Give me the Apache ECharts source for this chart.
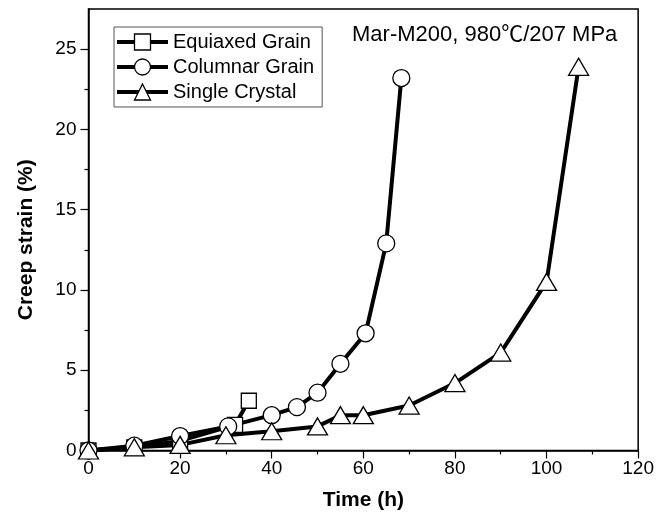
<!DOCTYPE html>
<html>
<head>
<meta charset="utf-8">
<script src="https://cdn.jsdelivr.net/npm/echarts@6/dist/echarts.min.js"></script>
<style>html,body{margin:0;padding:0;background:#fff}#c{width:657px;height:520px}</style>
</head>
<body>
<div id="c"></div>
<script>
const seriesNames = ['Equiaxed Grain', 'Columnar Grain', 'Single Crystal'];
const equiaxedTime = [0, 10, 20, 32, 35];
const equiaxedStrain = [0, 0.2, 0.6, 1.6, 3.1];
const columnarTime = [0, 10, 20, 30.5, 40, 45.5, 50, 55, 60.5, 65, 68.3];
const columnarStrain = [0, 0.3, 0.9, 1.5, 2.2, 2.7, 3.6, 5.4, 7.3, 12.9, 23.2];
const singleTime = [0, 10, 20, 30, 40, 50, 55, 60, 70, 80, 90, 100, 107];
const singleStrain = [0, 0.2, 0.35, 0.95, 1.2, 1.5, 2.2, 2.2, 2.8, 4.2, 6.1, 10.5, 23.9];
const xTicks = [0, 20, 40, 60, 80, 100, 120];
const yTicks = [0, 5, 10, 15, 20, 25];
const annotation = 'Mar-M200, 980\u2103/207 MPa';
const xTitle = 'Time (h)';
const yTitle = 'Creep strain (%)';

const FONT = '"Liberation Sans", Arial, "Noto Sans CJK SC", sans-serif';
const pairs = (xs, ys) => xs.map((x, i) => [x, ys[i]]);
const yMaxFrame = 27.5;
const gridTop = 9, gridBottom = 69.5, gridLeft = 88.5, gridRight = 18;
const plotH = 520 - gridTop - gridBottom;
const grid1Top = gridTop + (yMaxFrame - yTicks[yTicks.length - 1]) * plotH / yMaxFrame;

const chart = echarts.init(document.getElementById('c'), null, {renderer: 'canvas'});
const mk = (name, xs, ys, symbol, size) => ({
  name: name, type: 'line', xAxisIndex: 0, yAxisIndex: 0,
  data: pairs(xs, ys), symbol: symbol, symbolSize: size, showSymbol: true,
  lineStyle: {color: '#000', width: 4},
  itemStyle: {color: '#fff', borderColor: '#000', borderWidth: 1.3},
  emphasis: {disabled: true}, animation: false
});
chart.setOption({
  animation: false,
  backgroundColor: '#fff',
  title: {
    text: annotation, left: 352, top: 24, padding: 0,
    textStyle: {fontFamily: FONT, fontSize: 22, fontWeight: 'normal', color: '#000'}
  },
  legend: {
    orient: 'vertical', left: 114, top: 27,
    data: seriesNames,
    itemWidth: 51, itemHeight: 20, itemGap: 5,
    padding: [5, 8, 5, 1],
    borderColor: '#555', borderWidth: 1,
    lineStyle: {width: 4, color: '#000'},
    itemStyle: {color: '#fff', borderColor: '#000', borderWidth: 1.3},
    textStyle: {fontFamily: FONT, fontSize: 20, color: '#000'},
    selectedMode: false
  },
  grid: [
    {left: gridLeft, right: gridRight, top: gridTop, bottom: gridBottom, show: true, borderColor: '#000', borderWidth: 1.5, backgroundColor: 'transparent'},
    {left: gridLeft, right: gridRight, top: grid1Top, bottom: gridBottom}
  ],
  xAxis: [
    {
      type: 'value', gridIndex: 0, min: xTicks[0], max: xTicks[xTicks.length - 1], interval: 20,
      name: xTitle, nameLocation: 'middle', nameGap: 39,
      nameTextStyle: {fontFamily: FONT, fontSize: 21, fontWeight: 'bold', color: '#000'},
      axisLine: {show: true, lineStyle: {color: '#000', width: 1.5}},
      axisTick: {show: true, inside: false, length: 8, lineStyle: {color: '#000', width: 1.2}},
      minorTick: {show: true, splitNumber: 2, length: 4, lineStyle: {color: '#000', width: 1.2}},
      axisLabel: {fontFamily: FONT, fontSize: 19, color: '#000', margin: 9},
      splitLine: {show: false}
    },
    {type: 'value', gridIndex: 1, min: 0, max: 120, show: false}
  ],
  yAxis: [
    {
      type: 'value', gridIndex: 0, min: 0, max: yMaxFrame,
      axisLine: {show: true, lineStyle: {color: '#000', width: 1.5}},
      axisTick: {show: false}, axisLabel: {show: false}, splitLine: {show: false},
      name: yTitle, nameLocation: 'middle', nameGap: 52,
      nameTextStyle: {fontFamily: FONT, fontSize: 21, fontWeight: 'bold', color: '#000', padding: [0, 20, 0, 0]}
    },
    {
      type: 'value', gridIndex: 1, min: yTicks[0], max: yTicks[yTicks.length - 1], interval: 5,
      axisLine: {show: false},
      axisTick: {show: true, inside: false, length: 8, lineStyle: {color: '#000', width: 1.2}},
      minorTick: {show: true, splitNumber: 2, length: 4, lineStyle: {color: '#000', width: 1.2}},
      axisLabel: {fontFamily: FONT, fontSize: 19, color: '#000', margin: 12},
      splitLine: {show: false}
    }
  ],
  series: [
    mk(seriesNames[0], equiaxedTime, equiaxedStrain, 'rect', 15),
    mk(seriesNames[1], columnarTime, columnarStrain, 'circle', 17),
    mk(seriesNames[2], singleTime, singleStrain, 'triangle', [20, 17])
  ]
});
</script>
</body>
</html>
